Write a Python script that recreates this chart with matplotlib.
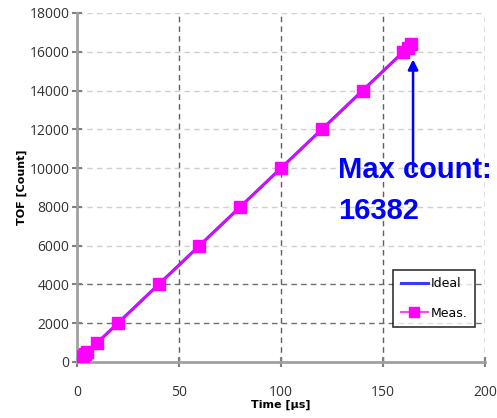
import numpy as np
import matplotlib.pyplot as plt

# measured TOF counts vs. elapsed time
time_us = [0, 1, 2, 3, 4, 5, 10, 20, 40, 60, 80, 100, 120, 140, 160, 162, 163.82]
tof_meas = [0, 100, 200, 300, 400, 500, 1000, 2000, 4000, 6000, 8000, 10000,
            12000, 14000, 16000, 16200, 16382]
ideal_t = [0, 163.82]
ideal_tof = [0, 16382]
max_count = 16382

xticks = [0, 50, 100, 150, 200]
yticks = list(range(0, 18001, 2000))

fig = plt.figure(figsize=(4.97, 4.18), dpi=100)
ax = fig.add_axes([0.155, 0.134, 0.821, 0.835])

ax.plot(ideal_t, ideal_tof, color='#3a3aff', lw=2.2, label='Ideal', zorder=3)
ax.plot(time_us, tof_meas, color='#ff00ff', lw=2.0, alpha=0.75, zorder=4)
ax.plot(time_us, tof_meas, ls='none', marker='s', ms=8, color='#ff00ff',
        mec='#ff00ff', zorder=5)
# legend proxy for the measured series
ax.plot([], [], color='#ff44ff', lw=1.5, marker='s', ms=7, mec='#ff00ff',
        mfc='#ff00ff', label='Meas.')

ax.set_xlim(0, 200)
ax.set_ylim(0, 18000)
ax.set_xticks(xticks)
ax.set_yticks(yticks)

# gridlines
for y in yticks[1:]:
    c = '#707070' if y in (2000, 4000) else '#d0d0d0'
    ax.axhline(y, color=c, ls=(0, (4, 3)), lw=1, zorder=1)
for x in xticks[1:]:
    ax.axvline(x, color='#606060', ls=(0, (4, 3)), lw=1, zorder=1)

for s in ('top', 'right'):
    ax.spines[s].set_visible(False)
for s in ('left', 'bottom'):
    ax.spines[s].set_color('#a0a0a0')
    ax.spines[s].set_linewidth(2)

ax.tick_params(direction='inout', length=7, width=1.5, color='#808080',
               labelsize=10, labelcolor='#333333', pad=2)
for lab in ax.get_xticklabels() + ax.get_yticklabels():
    lab.set_family('Open Sans')
ax.tick_params(axis='x', pad=13)

ax.set_xlabel('Time [μs]', fontsize=8, fontweight='bold', labelpad=0)
ax.set_ylabel('TOF [Count]', fontsize=8, fontweight='bold', labelpad=2)

leg = ax.legend(loc='lower right', bbox_to_anchor=(0.975, 0.1), fontsize=9,
                frameon=True, fancybox=False, handlelength=2.2,
                handletextpad=0.2, borderpad=0.6, labelspacing=1.3,
                borderaxespad=0)
leg.get_frame().set_edgecolor('black')
leg.get_frame().set_linewidth(1.2)

ax.annotate('', xy=(164.7, 15750), xytext=(164.7, 9650),
            arrowprops=dict(arrowstyle='-|>', color='#0000ff', lw=1.8,
                        mutation_scale=15), zorder=6)
ax.text(128, 10600, 'Max count:\n%d' % max_count, color='#0000ff',
        fontsize=21, fontweight='bold', family='Liberation Sans',
        va='top', ha='left', linespacing=1.55, zorder=6)

fig.savefig('out.png', dpi=100)
